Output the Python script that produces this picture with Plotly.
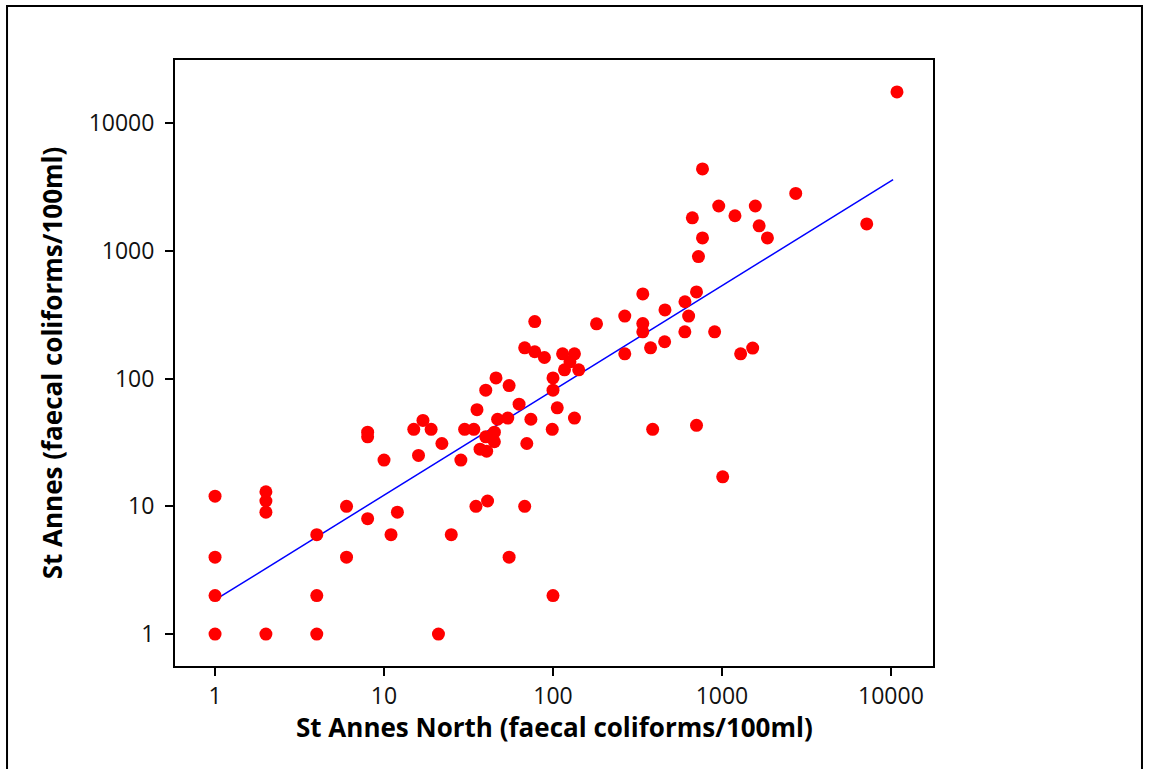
import plotly.graph_objects as go

# Data (faecal coliforms / 100ml)
north = [1, 1, 1, 1, 2, 2, 2, 2, 4, 4, 4, 6, 6, 8, 8, 8, 10, 11, 12, 15, 17, 16, 19, 21, 22,
         25, 28.5, 30, 34, 35.5, 35, 37, 40, 40, 40.5, 41, 45, 45, 46, 47, 54, 55, 55, 63,
         68, 68, 70, 74, 78, 78, 89, 100, 100, 99, 100, 106, 114, 134, 126, 117, 142, 134,
         181, 266, 266, 340, 340, 340, 378, 389, 458, 460, 604, 603, 635, 668, 707, 707,
         726, 767, 767, 905, 957, 1010, 1194, 1290, 1520, 1575, 1660, 1858, 2733, 7190, 10860]
annes = [12, 4, 2, 1, 13, 11, 9, 1, 6, 2, 1, 10, 4, 38, 35, 8, 23, 6, 9, 40, 47, 25, 40, 1, 31,
         6, 23, 40, 40, 57, 10, 28, 81, 35, 27, 11, 38, 32, 101, 48, 49, 88, 4, 63,
         174, 10, 31, 48, 279, 162, 146, 101, 81, 40, 2, 59, 156, 156, 135, 117, 117, 49,
         268, 308, 156, 459, 269, 232, 174, 40, 194, 344, 399, 232, 308, 1810, 476, 43,
         900, 4366, 1260, 232, 2240, 17, 1880, 156, 173, 2240, 1566, 1260, 2810, 1622, 17500]

# Fitted line (log-log) endpoints
fit_x = [1, 10300]
fit_y = [1.85, 3600]

tick_vals = [1, 10, 100, 1000, 10000]
tick_text = ["1", "10", "100", "1000", "10000"]

x_title = "St Annes North (faecal coliforms/100ml)"
y_title = "St Annes (faecal coliforms/100ml)"

fig = go.Figure()
fig.add_trace(go.Scatter(x=fit_x, y=fit_y, mode="lines",
                         line=dict(color="#0000ff", width=1.5), showlegend=False,
                         hoverinfo="skip"))
fig.add_trace(go.Scatter(x=north, y=annes, mode="markers",
                         marker=dict(color="#ff0000", size=13, line=dict(width=0)),
                         showlegend=False))

axis_common = dict(type="log", showgrid=False, zeroline=False, showline=True,
                   linecolor="black", linewidth=2, mirror=True, ticks="outside",
                   ticklen=8, tickwidth=1.5, tickcolor="black",
                   tickvals=tick_vals, ticktext=tick_text,
                   tickfont=dict(family="Open Sans", size=23, color="#111111"))

title_font = dict(family="Open Sans", size=26, color="black")

fig.update_layout(
    width=1149, height=769,
    margin=dict(l=175, r=216, t=60, b=103),
    paper_bgcolor="white", plot_bgcolor="white",
    xaxis=dict(range=[-0.237, 4.249], ticklabelstandoff=0, **axis_common),
    yaxis=dict(range=[-0.25, 4.493],
               title=dict(text="<b>" + y_title + "</b>", font=title_font, standoff=19),
               ticklabelstandoff=6,
               **axis_common),
    annotations=[dict(text="<b>" + x_title + "</b>", xref="paper", yref="paper",
                      x=0.5, y=-0.101, xanchor="center", yanchor="middle",
                      showarrow=False, font=title_font)],
    shapes=[dict(type="rect", xref="paper", yref="paper",
                 x0=-0.2216, x1=1.2757, y0=-0.25, y1=1.0891,
                 line=dict(color="black", width=2), fillcolor="rgba(0,0,0,0)",
                 layer="below")],
)

fig.write_html("out.html")
